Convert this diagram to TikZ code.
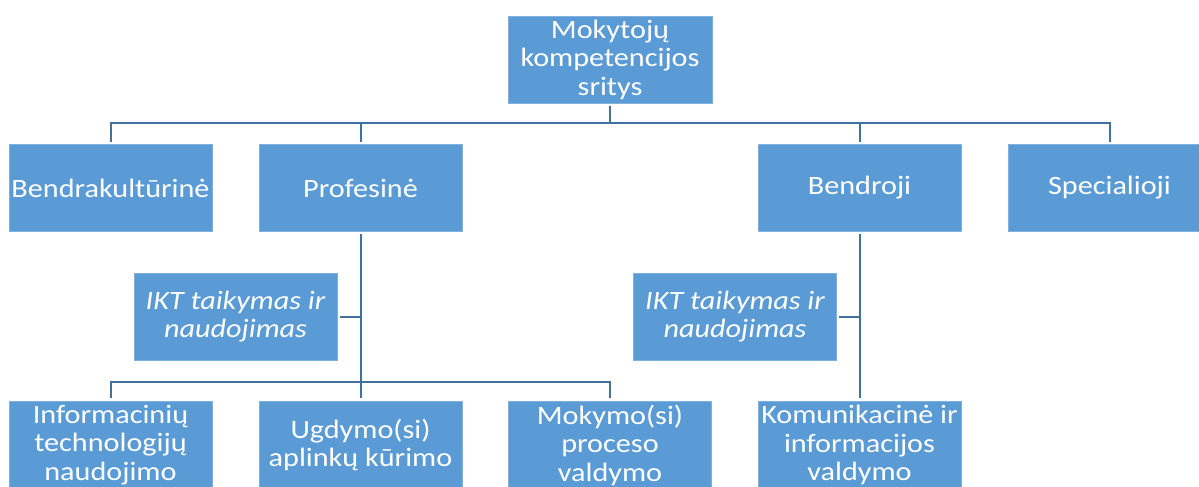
\documentclass[tikz,border=0pt]{standalone}
\usepackage{fontspec}
\setmainfont{Carlito}[FakeStretch=1.14]
\definecolor{boxfill}{RGB}{91,155,213}
\definecolor{boxedge}{RGB}{128,177,222}
\definecolor{linkblue}{RGB}{65,113,156}
\begin{document}
\begin{tikzpicture}[x=1pt,y=-1pt,
  box/.style={rectangle, fill=boxfill, draw=boxedge, line width=0.8pt,
    minimum width=203pt, minimum height=87pt, inner sep=0pt,
    text=white, align=center,
    font=\fontsize{26.5}{28.5}\selectfont},
  itbox/.style={box, font=\fontsize{26.5}{28.5}\selectfont\itshape},
  link/.style={draw=linkblue, line width=2pt, shorten <=2.5pt, shorten >=2.5pt}]
\useasboundingbox (0,0) rectangle (1199,487);
% root
\node[box, minimum width=204pt] (top) at (610,59.5) {Mokytojų\\kompetencijos\\sritys};
% second level
\node[box] (b1) at (110.5,188) {Bendrakultūrinė};
\node[box] (b2) at (360.5,188) {Profesinė};
\node[box] (b3) at (859.5,188) {Bendroji};
\node[box] (b4) at (1109.5,188) {Specialioji};
% side notes
\node[itbox] (i1) at (235.5,316.5) {IKT taikymas ir\\naudojimas};
\node[itbox] (i2) at (735,316.5) {IKT taikymas ir\\naudojimas};
% third level
\node[box, minimum height=88pt] (c1) at (110.5,445) {Informacinių\\technologijų\\naudojimo};
\node[box, minimum height=88pt] (c2) at (360.5,445) {Ugdymo(si)\\aplinkų kūrimo};
\node[box, minimum height=88pt] (c3) at (610,445) {Mokymo(si)\\proceso\\valdymo};
\node[box, minimum height=88pt] (c4) at (859.5,445) {Komunikacinė ir\\informacijos\\valdymo};
% bus lines
\coordinate (busA) at (0,123);
\coordinate (busB) at (0,382);
\draw[link, shorten >=0pt] (top.south) -- (top |- busA);
\draw[link] (b1.north) |- (b4.north |- busA) -- (b4.north);
\draw[link, shorten <=0pt] (b2 |- busA) -- (b2.north);
\draw[link, shorten <=0pt] (b3 |- busA) -- (b3.north);
\draw[link] (b2.south) -- (c2.north);
\draw[link] (c1.north) |- (c3.north |- busB) -- (c3.north);
\draw[link, shorten >=0pt] (i1.east) -- (b2 |- i1);
\draw[link] (b3.south) -- (c4.north);
\draw[link, shorten >=0pt] (i2.east) -- (b3 |- i2);
\end{tikzpicture}
\end{document}
